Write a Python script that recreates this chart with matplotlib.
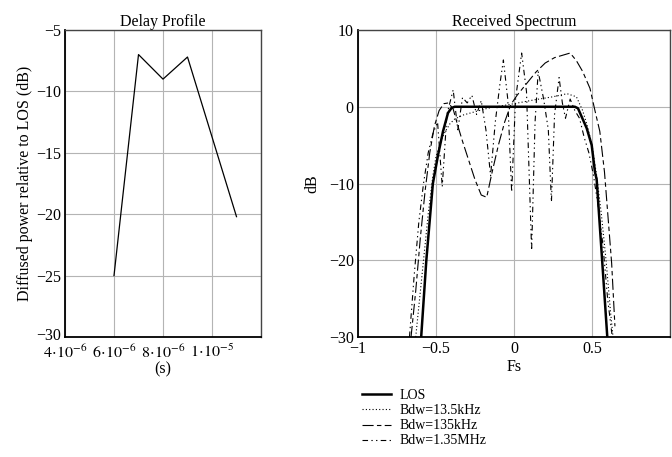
import matplotlib
matplotlib.use("Agg")
import matplotlib.pyplot as plt
import matplotlib.transforms as mtrans

plt.rcParams['font.family'] = ['Liberation Serif', 'DejaVu Serif']
plt.rcParams['mathtext.fontset'] = 'stix'
plt.rcParams['font.size'] = 11.5

# ---- Delay profile data ----
delay_s = [6e-6, 7e-6, 8e-6, 9e-6, 1.1e-5]
delay_db = [-25.0, -7.0, -9.0, -7.2, -20.2]
delay_ticks = [4e-6, 6e-6, 8e-6, 1e-5]
delay_ticklabels = [r'$4\!\cdot\!10^{-6}$', r'$6\!\cdot\!10^{-6}$', r'$8\!\cdot\!10^{-6}$', r'$1\!\cdot\!10^{-5}$']

# ---- Received spectrum data ----
los_x = [-0.595, -0.562, -0.52, -0.487, -0.455, -0.423, -0.40, -0.38, 0.39, 0.41, 0.423, 0.466, 0.498, 0.519, 0.53, 0.565, 0.598]
los_y = [-30, -20, -10, -6.3, -3.2, -0.8, -0.15, 0, 0, -0.2, -0.8, -2.8, -5, -8.5, -9.5, -20, -30]

b13_x = [-0.63, -0.6, -0.58, -0.55, -0.52, -0.5, -0.47, -0.44, -0.41, -0.38, -0.33, -0.17, 0.0, 0.13, 0.25, 0.34, 0.40, 0.44, 0.47, 0.5, 0.53, 0.56, 0.59, 0.62, 0.635]
b13_y = [-30, -24, -20, -14, -9, -6.5, -4.5, -3.2, -2.2, -1.6, -1.1, -0.2, 0.4, 0.9, 1.3, 1.7, 1.3, -0.5, -2.5, -5, -9, -14, -20, -27, -30]

b135_x = [-0.66, -0.63, -0.6, -0.57, -0.54, -0.51, -0.48, -0.45, -0.42, -0.39, -0.36, -0.33, -0.29, -0.25, -0.21, -0.175, -0.14, -0.1, -0.06, -0.02, 0.02, 0.08, 0.14, 0.2, 0.26, 0.31, 0.36, 0.40, 0.44, 0.487, 0.52, 0.55, 0.58, 0.594, 0.626, 0.647]
b135_y = [-30, -24, -17, -11, -6, -2.5, -0.5, 0.4, 0.5, -0.3, -2.5, -4.5, -7, -9.5, -11.5, -11.8, -8.5, -5, -2, 0.3, 1.5, 3, 4.5, 5.7, 6.4, 6.7, 7.0, 6, 4.6, 2.4, -0.6, -3.2, -8.5, -12.1, -20.4, -28.6]

b1350_x = [-0.67, -0.64, -0.61, -0.58, -0.55, -0.52, -0.49, -0.46, -0.43, -0.39, -0.36, -0.33, -0.30, -0.27, -0.24, -0.21, -0.18, -0.15, -0.12, -0.09, -0.068, -0.04, -0.015, 0.01, 0.049, 0.08, 0.113, 0.135, 0.155, 0.19, 0.22, 0.24, 0.26, 0.289, 0.31, 0.33, 0.36, 0.39, 0.42, 0.45, 0.48, 0.51, 0.54, 0.57, 0.6, 0.63]
b1350_y = [-30, -22, -15, -10, -6, -3.5, -2, -10.4, -1, 2.2, -3, 1.2, 0.5, 1.5, -1, 0.8, -3, -9, -2, 3, 6.1, 1, -11.1, 1, 7.0, 2, -18.7, -2, 4.6, 1, -3, -12.4, -1, 3.8, 0.5, -1.5, 1.0, -0.5, -1.5, -4, -6, -9, -13, -18, -25, -30]

fig = plt.figure(figsize=(6.72, 4.57), dpi=100)

ax1 = fig.add_axes([65/672, 1-337/457, 196/672, 307/457])
ax2 = fig.add_axes([358/672, 1-337/457, 312/672, 307/457])

grid_kw = dict(color='#b4b4b4', linewidth=0.8)

# Left
ax1.plot(delay_s, delay_db, color='black', linewidth=0.9)
ax1.set_xlim(4e-6, 1.2e-5)
ax1.set_ylim(-30, -5)
ax1.set_xticks(delay_ticks + [1.2e-5])
ax1.set_xticklabels(delay_ticklabels + [''])
ax1.set_yticks([-30, -25, -20, -15, -10, -5])
ax1.grid(True, **grid_kw)
ax1.set_title('Delay Profile', fontsize=11.5, pad=3)
ax1.set_ylabel('Diffused power relative to LOS (dB)', fontsize=11.5, labelpad=2)

# Right
ax2.plot(los_x, los_y, color='black', linewidth=1.8, label='LOS')
ax2.plot(b13_x, b13_y, color='black', linewidth=0.8, linestyle=(0, (1, 2)), label='Bdw=13.5kHz')
ax2.plot(b135_x, b135_y, color='black', linewidth=0.8, linestyle=(0, (10, 3, 4, 3)), label='Bdw=135kHz')
ax2.plot(b1350_x, b1350_y, color='black', linewidth=0.8, linestyle=(0, (5, 3, 1.2, 3, 1.2, 3)), label='Bdw=1.35MHz')
ax2.set_xlim(-1, 1)
ax2.set_ylim(-30, 10)
ax2.set_xticks([-1, -0.5, 0, 0.5, 1])
ax2.set_xticklabels(['\u22121', '\u22120.5', '0', '0.5', ''])
ax2.set_yticks([-30, -20, -10, 0, 10])
ax2.grid(True, **grid_kw)
ax2.set_title('Received Spectrum', fontsize=11.5, pad=3)
ax2.set_ylabel('dB', fontsize=11.5, labelpad=6)
ax2.set_xlabel('Fs', fontsize=11.5, labelpad=1)

for ax in (ax1, ax2):
    ax.tick_params(length=0, pad=3, labelsize=11.5)
    for s in ('top', 'right'):
        ax.spines[s].set_color('#444444')
        ax.spines[s].set_linewidth(1.0)
    for s in ('left', 'bottom'):
        ax.spines[s].set_color('black')
        ax.spines[s].set_linewidth(1.3)
    ax.set_axisbelow(True)

ax1.tick_params(axis='x', pad=5)
ax1.set_xlabel('(s)', fontsize=11.5, labelpad=0)

# nudge the lowest y label of the left plot slightly up so it clears the x labels
fig.canvas.draw()
lbl = ax1.get_yticklabels()[0]
lbl.set_transform(lbl.get_transform() + mtrans.ScaledTranslation(0, 3/100, fig.dpi_scale_trans))

leg = ax2.legend(loc='upper left', bbox_to_anchor=(-0.005, -0.152), frameon=False,
                 fontsize=10, handlelength=2.1, handletextpad=0.6, labelspacing=0.15,
                 borderaxespad=0)

fig.savefig('out.png', dpi=100)
